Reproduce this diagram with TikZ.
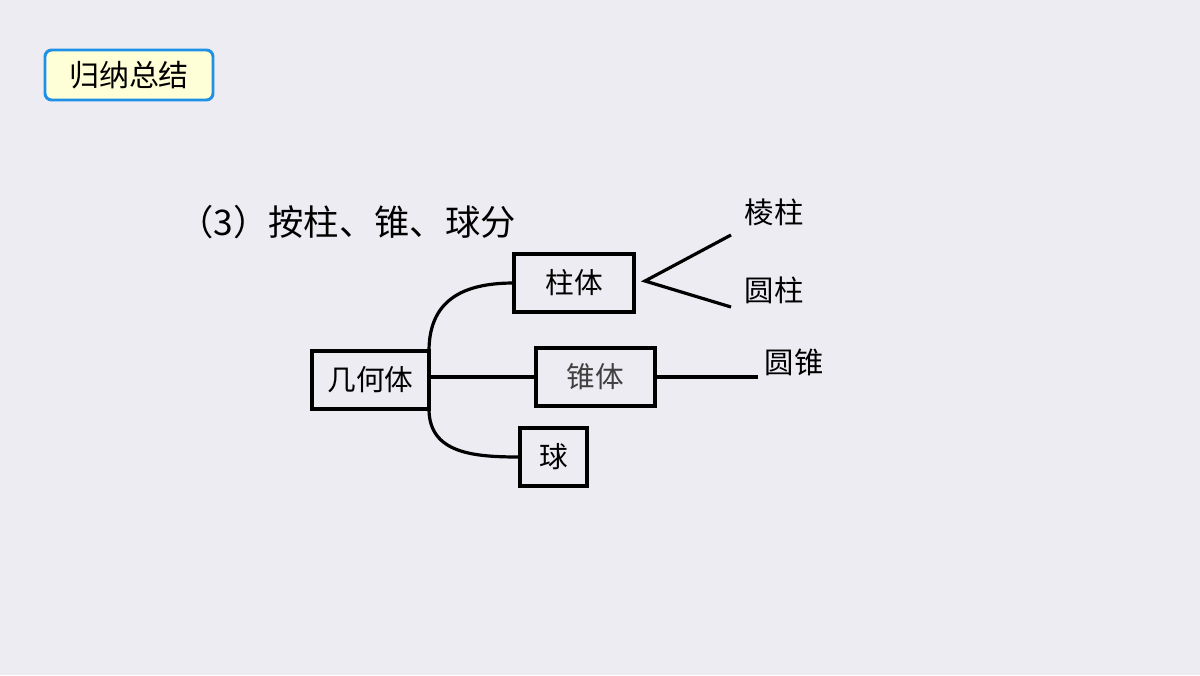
\documentclass[tikz,border=0pt]{standalone}
\usepackage{fontspec}
\setmainfont{Noto Sans CJK SC}
\definecolor{bg}{RGB}{238,236,243}
\definecolor{hdrblue}{RGB}{30,144,230}
\definecolor{hdrfill}{RGB}{255,255,215}
\begin{document}
\begin{tikzpicture}[x=0.75pt,y=-0.75pt,
  box/.style={draw=black,line width=2.6pt,inner sep=0pt,outer sep=0pt,minimum height=43.5pt,font=\fontsize{21.5}{24}\selectfont},
  conn/.style={draw=black,line width=2.4pt},
  leaf/.style={font=\fontsize{22}{26}\selectfont,inner sep=0pt}]
\fill[bg] (0,0) rectangle (1200,675);
\useasboundingbox (0,0) rectangle (1200,675);
% header
\node[draw=hdrblue,fill=hdrfill,line width=2.2pt,rounded corners=5pt,minimum width=126pt,minimum height=37.5pt,inner sep=0pt,font=\fontsize{22.5}{26}\selectfont] (hdr) at (129,75) {归纳总结};
% title
\node[anchor=west,inner sep=0pt,font=\fontsize{26.5}{30}\selectfont] (title) at (178,222) {（3）按柱、锥、球分};
% boxes
\node[box,minimum width=87.75pt] (g) at (370.5,380) {几何体};
\node[box,minimum width=90pt] (zhu) at (574,283) {柱体};
\node[box,minimum width=89.25pt,text=black!75] (zhui) at (595.5,377) {锥体};
\node[box,minimum width=50.25pt] (qiu) at (553.5,457) {球};
% connectors
\draw[conn] (g.north east) .. controls +(0,-55) and +(-45,0) .. (zhu.west);
\draw[conn] (g.east |- zhui.west) -- (zhui.west);
\draw[conn] (g.south east) .. controls +(0,45) and +(-45,0) .. (qiu.west);
\coordinate (fork) at (645,281);
\coordinate (e1) at (731,235);
\coordinate (e2) at (731,307);
\coordinate (e3) at (758,377);
\draw[conn] (e1) -- (fork) -- (e2);
\draw[conn] (zhui.east) -- (e3);
% leaves
\node[leaf] (l1) at (774,212) {棱柱};
\node[leaf] (l2) at (774,290) {圆柱};
\node[leaf] (l3) at (794,362) {圆锥};
\end{tikzpicture}
\end{document}
